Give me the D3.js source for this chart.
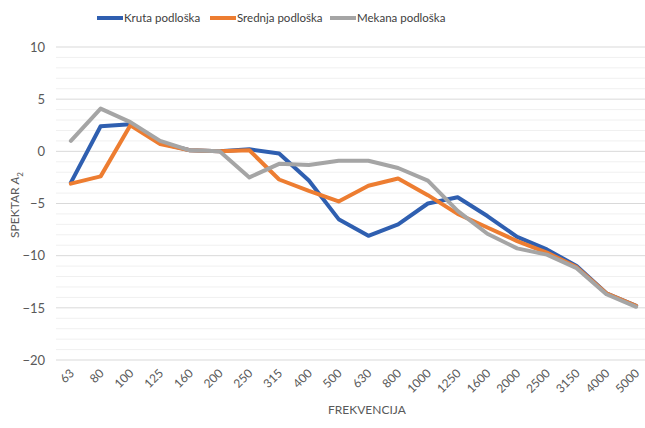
<!DOCTYPE html>
<meta charset="utf-8">
<style>
  body { margin: 0; background: #fff; }
  text { font-family: Lato, "Open Sans", sans-serif; fill: #595959; }
  .tick text { font-size: 12px; }
  .legend text { font-size: 11.5px; fill: #404040; }
</style>
<svg width="645" height="428"></svg>
<script src="https://d3js.org/d3.v7.min.js"></script>
<script>

var categories = ["63", "80", "100", "125", "160", "200", "250", "315", "400", "500", "630", "800", "1000", "1250", "1600", "2000", "2500", "3150", "4000", "5000"];
var kruta   = [-3.0, 2.4, 2.6, 0.8, 0.1, 0.0, 0.2, -0.2, -2.8, -6.5, -8.1, -7.0, -5.0, -4.4, -6.2, -8.2, -9.4, -11.0, -13.6, -14.8];
var srednja = [-3.1, -2.4, 2.5, 0.7, 0.1, 0.0, 0.1, -2.7, -3.8, -4.8, -3.3, -2.6, -4.2, -6.0, -7.3, -8.6, -9.7, -11.1, -13.6, -14.8];
var mekana  = [1.0, 4.1, 2.8, 1.0, 0.1, 0.0, -2.5, -1.2, -1.3, -0.9, -0.9, -1.6, -2.8, -5.7, -7.9, -9.3, -9.9, -11.2, -13.7, -14.9];
var yTicks = [10, 5, 0, -5, -10, -15, -20];

var series = [
  { name: "Kruta podloška", values: kruta, color: "#2f5fb0" },
  { name: "Srednja podloška", values: srednja, color: "#ed7d31" },
  { name: "Mekana podloška", values: mekana, color: "#a5a5a5" }
];

var svg = d3.select("svg");
var plotLeft = 56, plotRight = 651, plotTop = 47, plotBottom = 360;

var x = d3.scaleBand().domain(categories).range([plotLeft, plotRight]);
var y = d3.scaleLinear().domain([-20, 10]).range([plotBottom, plotTop]);

// minor grid
svg.append("g").selectAll("line")
  .data(d3.range(-19, 10).filter(function(v) { return v % 5 != 0; }))
  .enter().append("line")
  .attr("x1", plotLeft).attr("x2", plotRight)
  .attr("y1", function(d) { return y(d); }).attr("y2", function(d) { return y(d); })
  .attr("stroke", "#f0f0f0").attr("stroke-width", 1);

// major grid
svg.append("g").selectAll("line")
  .data(yTicks)
  .enter().append("line")
  .attr("x1", plotLeft).attr("x2", plotRight)
  .attr("y1", function(d) { return y(d); }).attr("y2", function(d) { return y(d); })
  .attr("stroke", "#d9d9d9").attr("stroke-width", 1);

// y axis labels
var yAxis = svg.append("g")
  .attr("transform", "translate(" + plotLeft + ",0)")
  .call(d3.axisLeft(y).tickValues(yTicks).tickSize(0).tickPadding(11));
yAxis.select(".domain").remove();
yAxis.selectAll("text").style("font-size", "13px").style("fill", "#595959");

// x axis labels
var xAxis = svg.append("g")
  .attr("transform", "translate(0," + plotBottom + ")")
  .call(d3.axisBottom(x).tickSize(0).tickPadding(0));
xAxis.select(".domain").remove();
xAxis.selectAll("text")
  .attr("text-anchor", "end")
  .attr("dy", 0)
  .attr("y", 0)
  .style("fill", "#595959")
  .attr("transform", "translate(4,14) rotate(-45)");

// axis titles
svg.append("text")
  .attr("x", 367).attr("y", 414)
  .attr("text-anchor", "middle")
  .style("font-size", "12px")
  .text("FREKVENCIJA");

var yt = svg.append("text")
  .attr("transform", "translate(19,205) rotate(-90)")
  .attr("text-anchor", "middle")
  .style("font-size", "12px");
yt.append("tspan").text("SPEKTAR ");
yt.append("tspan").style("font-style", "italic").text("A");
yt.append("tspan").attr("dy", 4).style("font-size", "8px").text("2");

// lines
var line = d3.line()
  .x(function(d, i) { return x(categories[i]) + x.bandwidth() / 2; })
  .y(function(d) { return y(d); });

svg.append("g").selectAll("path")
  .data(series)
  .enter().append("path")
  .attr("d", function(d) { return line(d.values); })
  .attr("fill", "none")
  .attr("stroke", function(d) { return d.color; })
  .attr("stroke-width", 4)
  .attr("stroke-linejoin", "round")
  .attr("stroke-linecap", "round");

// legend
var legendX = [97, 210, 330];
var legend = svg.append("g").attr("class", "legend").selectAll("g")
  .data(series)
  .enter().append("g")
  .attr("transform", function(d, i) { return "translate(" + legendX[i] + ",18)"; });
legend.append("line")
  .attr("x1", 0).attr("x2", 26)
  .attr("stroke", function(d) { return d.color; })
  .attr("stroke-width", 4);
legend.append("text")
  .attr("x", 27).attr("dy", "0.35em")
  .text(function(d) { return d.name; });

</script>
